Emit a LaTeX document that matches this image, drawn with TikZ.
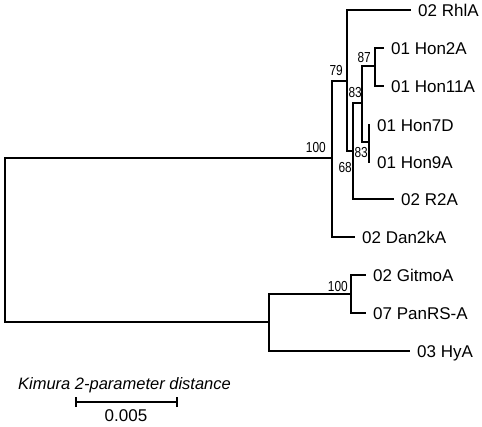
\documentclass[tikz,border=0pt]{standalone}
\usepackage{fontspec}
\setmainfont{Liberation Sans}
\newfontfamily\bootfont[FakeStretch=0.82]{Liberation Sans}
\begin{document}
\begin{tikzpicture}[x=1pt,y=-1pt,
  branch/.style={line width=1.8pt, line cap=rect},
  leaf/.style={anchor=west, inner xsep=8pt, inner ysep=0pt, text height=12pt, text depth=0pt, font=\fontsize{17}{17}\selectfont},
  boot/.style={anchor=base east, inner sep=0pt, font=\bootfont\fontsize{14.5}{14.5}\selectfont},
  scaletext/.style={inner sep=0pt, font=\fontsize{16.5}{16.5}\selectfont}]
\useasboundingbox (0,0) rectangle (482,426);
% internal nodes
\coordinate (R) at (5,240);
\coordinate (A) at (332,158);
\coordinate (B) at (347,81);
\coordinate (C) at (353,151);
\coordinate (D) at (362,103);
\coordinate (E) at (375,66);
\coordinate (F) at (369,142);
\coordinate (G) at (269,322);
\coordinate (H) at (351,294);
% leaves
\node[leaf] (rhla)   at (410,10)  {02 RhlA};
\node[leaf] (hon2a)  at (383,48)  {01 Hon2A};
\node[leaf] (hon11a) at (383,86)  {01 Hon11A};
\node[leaf] (hon7d)  at (369,125) {01 Hon7D};
\node[leaf] (hon9a)  at (369,162) {01 Hon9A};
\node[leaf] (r2a)    at (393,199) {02 R2A};
\node[leaf] (dan)    at (354,237) {02 Dan2kA};
\node[leaf] (gitmo)  at (365,275) {02 GitmoA};
\node[leaf] (panrs)  at (365,313) {07 PanRS-A};
\node[leaf] (hya)    at (409,351) {03 HyA};
% branches
\draw[branch] (A) -| (R) |- (G);
\draw[branch] (B) -| (A) |- (dan.west);
\draw[branch] (rhla.west) -| (B) |- (C);
\draw[branch] (D) -| (C) |- (r2a.west);
\draw[branch] (E) -| (D) |- (F);
\draw[branch] (hon2a.west) -| (E) |- (hon11a.west);
\draw[branch] (hon7d.west) -| (F) |- (hon9a.west);
\draw[branch] (H) -| (G) |- (hya.west);
\draw[branch] (gitmo.west) -| (H) |- (panrs.west);
% bootstrap values
\node[boot] (b100a) at (326,152) {100};
\node[boot] (b79)   at (343,75)  {79};
\node[boot] (b87)   at (371,62)  {87};
\node[boot] (b83a)  at (362,97)  {83};
\node[boot] (b83b)  at (368,157) {83};
\node[boot] (b68)   at (352,172) {68};
\node[boot] (b100b) at (348,291) {100};
% scale bar
\coordinate (sL) at (76,402);
\coordinate (sR) at (177,402);
\draw[line width=1.6pt] (sL) -- (sR);
\draw[line width=1.6pt] ([yshift=-5pt]sL) -- ([yshift=5pt]sL);
\draw[line width=1.6pt] ([yshift=-5pt]sR) -- ([yshift=5pt]sR);
\node[scaletext, anchor=base, font=\fontsize{16.5}{16.5}\selectfont\itshape] (kim) at (124.5,389) {Kimura 2-parameter distance};
\node[scaletext, anchor=base, font=\fontsize{17}{17}\selectfont] (dist) at (126,421) {0.005};
\end{tikzpicture}
\end{document}
